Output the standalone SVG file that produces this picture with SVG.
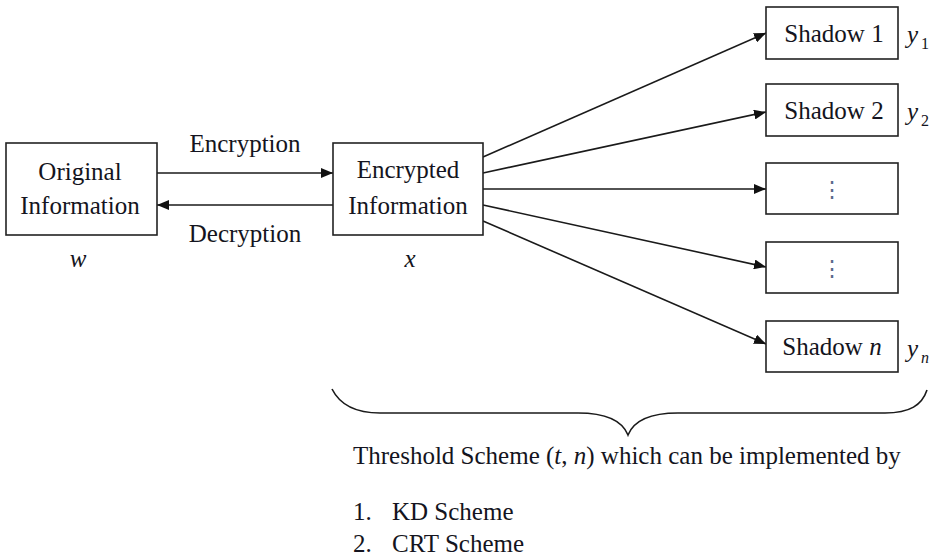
<svg xmlns="http://www.w3.org/2000/svg" width="939" height="558" viewBox="0 0 939 558" font-family="Liberation Serif, DejaVu Serif, serif">
<style>
.box{fill:#fff;stroke:#222;stroke-width:1.6}
text{font-family:"Liberation Serif",serif}
.t{font-size:25px;fill:#141420}
.m{text-anchor:middle}
.i{font-style:italic}
.sub{font-size:16px}
.ln{stroke:#1a1a1a;stroke-width:1.6;fill:none}
.dots{font-size:22px;fill:#5a6a8a;text-anchor:middle}
</style>
<defs>
<marker id="ah" viewBox="0 0 12 10" refX="12" refY="5" markerWidth="12" markerHeight="10" markerUnits="userSpaceOnUse" orient="auto">
<path d="M0,0 L12,5 L0,10 Z" fill="#111"/>
</marker>
</defs>
<rect width="939" height="558" fill="#fff"/>
<g id="connectors">
<line class="ln" x1="157" y1="173" x2="333" y2="173" marker-end="url(#ah)"/>
<line class="ln" x1="333" y1="205" x2="157" y2="205" marker-end="url(#ah)"/>
<line class="ln" x1="483" y1="157" x2="766" y2="33" marker-end="url(#ah)"/>
<line class="ln" x1="483" y1="173" x2="766" y2="112" marker-end="url(#ah)"/>
<line class="ln" x1="483" y1="189" x2="766" y2="189" marker-end="url(#ah)"/>
<line class="ln" x1="483" y1="205" x2="766" y2="267" marker-end="url(#ah)"/>
<line class="ln" x1="483" y1="221" x2="766" y2="344" marker-end="url(#ah)"/>
<text class="t m" x="245" y="152">Encryption</text>
<text class="t m" x="245" y="242">Decryption</text>
</g>
<g id="original">
<rect class="box" x="6" y="143" width="151" height="92"/>
<text class="t m" x="80" y="180">Original</text>
<text class="t m" x="80" y="214">Information</text>
<text class="t m i" x="78" y="267">w</text>
</g>
<g id="encrypted">
<rect class="box" x="333" y="143" width="150" height="92"/>
<text class="t m" x="408" y="178">Encrypted</text>
<text class="t m" x="408" y="214">Information</text>
<text class="t m i" x="410" y="267">x</text>
</g>
<g id="shadow1">
<rect class="box" x="766" y="7" width="132" height="52"/>
<text class="t m" x="834" y="42">Shadow 1</text>
<text class="t i" x="907" y="43">y</text><text class="t sub" x="921" y="49">1</text>
</g>
<g id="shadow2">
<rect class="box" x="766" y="84" width="132" height="52"/>
<text class="t m" x="834" y="119">Shadow 2</text>
<text class="t i" x="907" y="120">y</text><text class="t sub" x="921" y="126">2</text>
</g>
<g id="shadow3">
<rect class="box" x="766" y="163" width="132" height="51"/>
<text class="dots" x="832" y="197">⋮</text>
</g>
<g id="shadow4">
<rect class="box" x="766" y="242" width="132" height="51"/>
<text class="dots" x="832" y="276">⋮</text>
</g>
<g id="shadown">
<rect class="box" x="766" y="321" width="132" height="51"/>
<text class="t m" x="832" y="355">Shadow <tspan class="i">n</tspan></text>
<text class="t i" x="907" y="357">y</text><text class="t sub i" x="921" y="363">n</text>
</g>
<g id="brace">
<path class="ln" d="M332,389 C340,405 355,413 380,413 L578,413 C605,413 622,420 628,435 C634,420 651,413 678,413 L885,413 C910,413 922,405 927,390"/>
<text class="t" x="353" y="464">Threshold Scheme (<tspan class="i">t</tspan>,  <tspan class="i">n</tspan>) which can be implemented by</text>
<text class="t" x="353" y="520">1.</text><text class="t" x="392" y="520">KD Scheme</text>
<text class="t" x="353" y="552">2.</text><text class="t" x="392" y="552">CRT Scheme</text>
</g>
</svg>
